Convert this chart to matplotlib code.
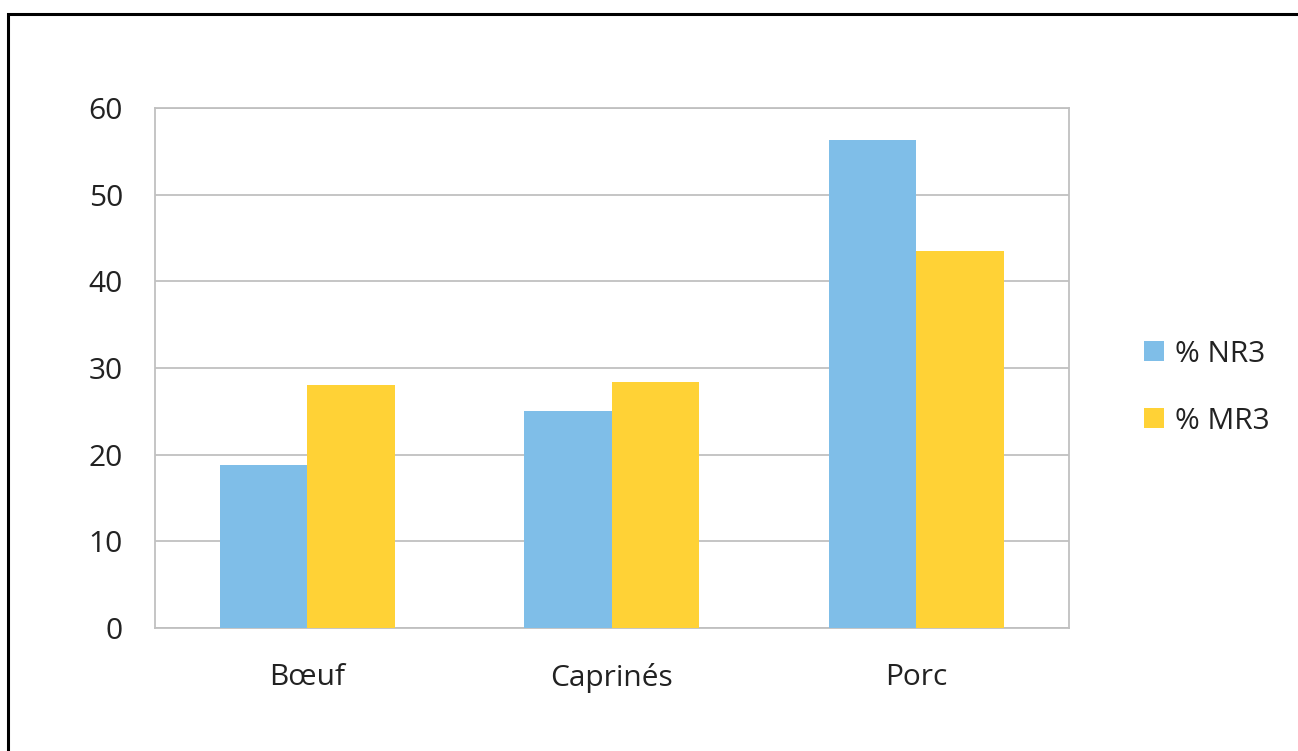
import numpy as np
import matplotlib.pyplot as plt
from matplotlib.patches import Rectangle

# Data
categories = ['Bœuf', 'Caprinés', 'Porc']
nr3 = [18.8, 25.0, 56.3]
mr3 = [28.0, 28.4, 43.5]
series_names = ['% NR3', '% MR3']
colors = ['#7FBEE8', '#FFD236']

plt.rcParams['font.family'] = ['Open Sans', 'DejaVu Sans']

fig = plt.figure(figsize=(12.98, 7.51), dpi=100)
ax = fig.add_axes([0.1194, 0.1638, 0.7038, 0.6924])

x = np.arange(len(categories))
w = 0.287
ax.bar(x - w / 2, nr3, w, color=colors[0], label=series_names[0], zorder=3)
ax.bar(x + w / 2, mr3, w, color=colors[1], label=series_names[1], zorder=3)

ax.set_xlim(-0.5, len(categories) - 0.5)
ax.set_ylim(0, 60)
ax.set_yticks(range(0, 61, 10))
ax.set_xticks(x)
ax.set_xticklabels(categories)
ax.grid(axis='y', color='#C0C0C0', linewidth=1.3, zorder=0)
for s in ax.spines.values():
    s.set_color('#C0C0C0')
    s.set_linewidth(1.3)
ax.tick_params(axis='y', length=0, pad=23, labelsize=21.5, colors='#222222')
ax.tick_params(axis='x', length=0, pad=25, labelsize=21.5, colors='#222222')

ax.legend(loc='center left', bbox_to_anchor=(1.053, 0.462), frameon=False,
          fontsize=21.5, handlelength=0.67, handleheight=0.67,
          handletextpad=0.37, labelspacing=1.27, labelcolor='#222222')

# outer chart frame (runs off the right and bottom edges)
fig.patches.append(Rectangle((8 / 1298, -0.05), 1.2, 1 - 14 / 751 + 0.05,
                             transform=fig.transFigure, fill=False,
                             edgecolor='black', linewidth=2.2))

fig.savefig('out.png', dpi=100)
